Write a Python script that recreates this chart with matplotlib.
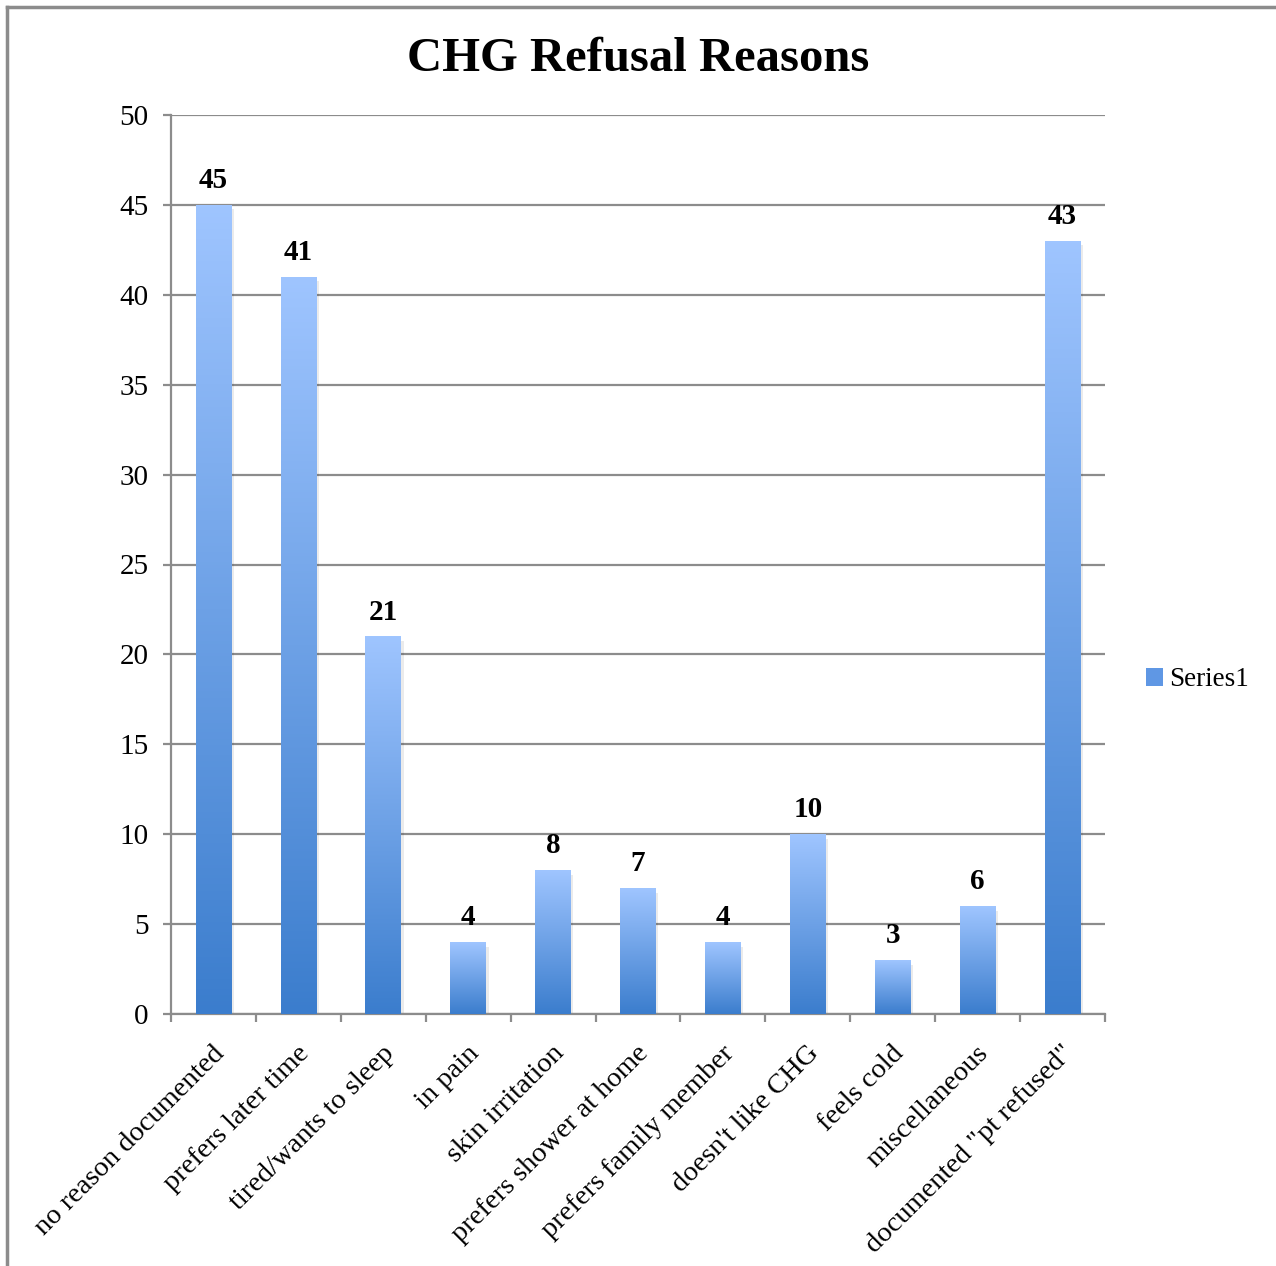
import numpy as np
import matplotlib
matplotlib.use('Agg')
import matplotlib.pyplot as plt
from matplotlib.colors import LinearSegmentedColormap
from matplotlib.patches import Patch
from matplotlib.lines import Line2D

# Data
categories = ['no reason documented', 'prefers later time', 'tired/wants to sleep',
              'in pain', 'skin irritation', 'prefers shower at home',
              'prefers family member', "doesn't like CHG", 'feels cold',
              'miscellaneous', 'documented "pt refused"']
values = [45, 41, 21, 4, 8, 7, 4, 10, 3, 6, 43]
series_name = 'Series1'

plt.rcParams['font.family'] = ['Liberation Serif', 'DejaVu Serif']

fig = plt.figure(figsize=(12.76, 12.66), dpi=100)
ax = fig.add_axes([171 / 1276, 1 - 1014 / 1266, (1105 - 171) / 1276, (1014 - 115) / 1266])

# outer frame (left and top only)
fig.add_artist(Line2D([7 / 1276, 7 / 1276], [0, 1 - 7 / 1266], color='#8c8c8c', lw=2.5,
                      transform=fig.transFigure))
fig.add_artist(Line2D([7 / 1276, 1], [1 - 7 / 1266, 1 - 7 / 1266], color='#8c8c8c', lw=2.5,
                      transform=fig.transFigure))

x = np.arange(len(categories))
bars = ax.bar(x, values, width=0.42, color='none', zorder=3)

cmap = LinearSegmentedColormap.from_list('blu', ['#3b7dcd', '#9fc5ff'])
grad = np.linspace(0, 1, 256).reshape(-1, 1)
for b in bars:
    x0, y0 = b.get_x(), b.get_y()
    w, h = b.get_width(), b.get_height()
    # soft shadow
    ax.bar(x0 + w / 2 + 0.03, h, width=w, bottom=-0.25, color='#000000', alpha=0.08, zorder=2)
    im = ax.imshow(grad, cmap=cmap, origin='lower', aspect='auto',
                   extent=[x0, x0 + w, y0, y0 + h], zorder=3)
    im.set_clip_path(b)

for xi, v in zip(x, values):
    ax.text(xi, v + 0.6, str(v), ha='center', va='bottom', fontsize=21, fontweight='bold')

ax.set_xlim(-0.5, len(categories) - 0.5)
ax.set_ylim(0, 50)
ax.set_yticks(range(0, 51, 5))
ax.yaxis.grid(True, color='#8c8c8c', lw=1.6, zorder=1)
ax.set_axisbelow(True)
for s in ['top', 'right']:
    ax.spines[s].set_visible(False)
ax.spines['left'].set_color('#8c8c8c')
ax.spines['left'].set_linewidth(1.6)
ax.spines['bottom'].set_color('#8c8c8c')
ax.spines['bottom'].set_linewidth(1.6)
ax.tick_params(axis='y', length=6, width=1.6, color='#8c8c8c', labelsize=21, pad=10)
ax.set_xticks(np.arange(-0.5, len(categories)), minor=False)
ax.set_xticklabels([])
ax.tick_params(axis='x', length=6, width=1.6, color='#8c8c8c')

for xi, c in zip(x, categories):
    ax.text(xi - 0.02, -1.5, c, rotation=45, ha='right', va='top', rotation_mode='anchor',
            fontsize=20.5)

ax.set_title('CHG Refusal Reasons', fontsize=35, fontweight='bold', pad=32)

leg = fig.legend([Patch(facecolor='#5f97e4')], [series_name], loc='center left',
                 bbox_to_anchor=(1122 / 1276, 1 - 680 / 1266), frameon=False, fontsize=19.5,
                 handlelength=0.6, handleheight=0.6, handletextpad=0.25)

fig.savefig('out.png', dpi=100)
